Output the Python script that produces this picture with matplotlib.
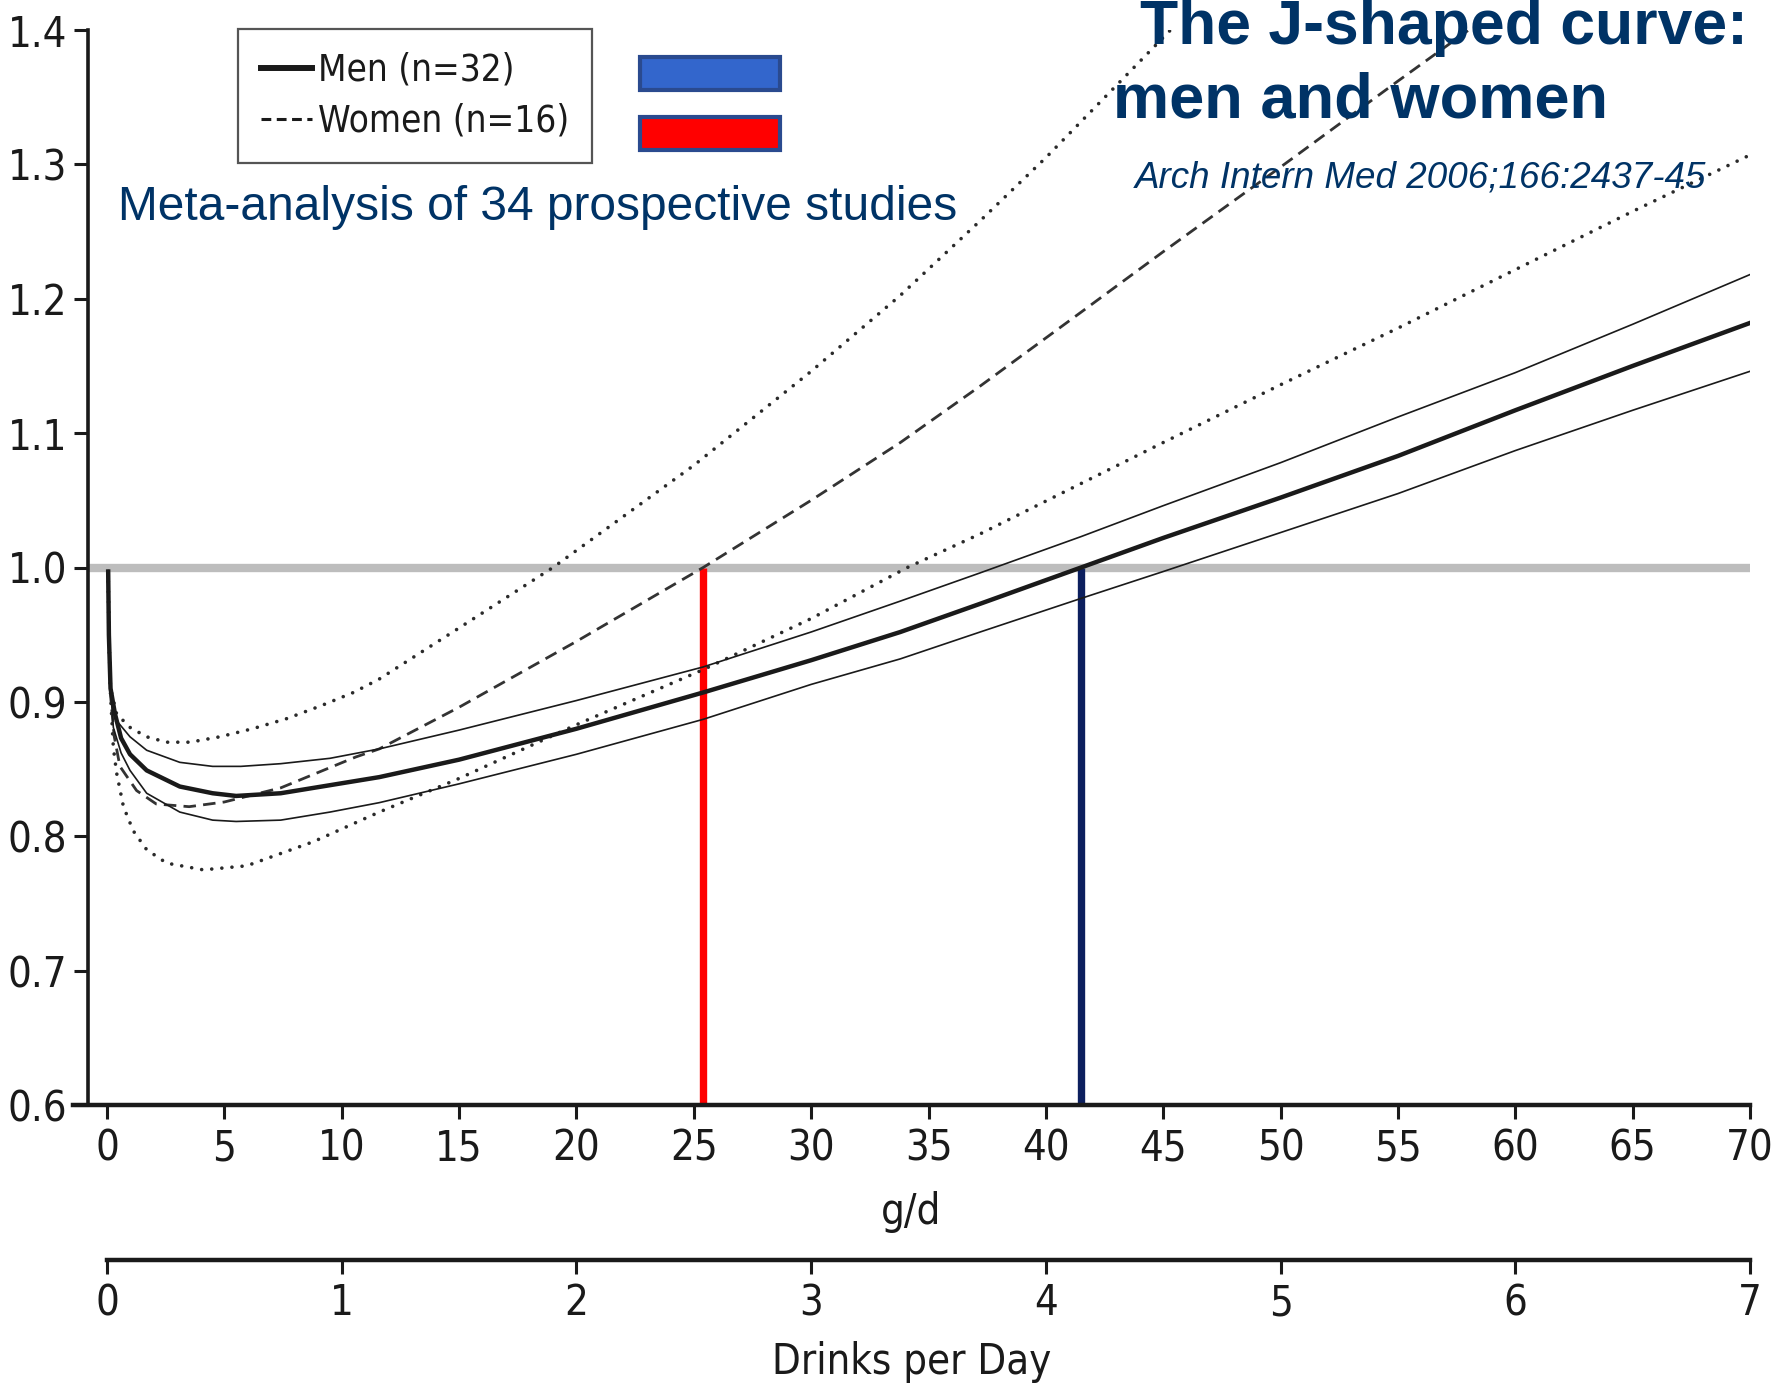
import matplotlib.pyplot as plt
from matplotlib.lines import Line2D
from matplotlib.patches import Rectangle

# values (g/d -> relative risk)
men_x = [0.05, 0.08, 0.15, 0.34, 0.6, 0.98, 1.69, 3.1, 4.5, 5.5, 7.4, 9.5, 11.6,
         15, 20, 25.4, 30, 33.8, 37.2, 41.5, 45, 50, 55, 60, 65, 70]
men_rr = [0.997, 0.95, 0.91, 0.891, 0.873, 0.861, 0.849, 0.837, 0.832, 0.830, 0.832, 0.838, 0.844,
          0.857, 0.880, 0.907, 0.931, 0.952, 0.973, 1.0, 1.022, 1.052, 1.083, 1.117, 1.150, 1.182]

men_hi_x = [0.05, 0.08, 0.15, 0.41, 0.98, 1.69, 3.1, 4.5, 5.7, 7.4, 9.5, 11.6,
            15, 20, 25.4, 30, 33.8, 37.2, 41.5, 45, 50, 55, 60, 65, 70]
men_hi = [0.997, 0.95, 0.91, 0.886, 0.874, 0.864, 0.855, 0.852, 0.852, 0.854, 0.858, 0.865,
          0.879, 0.901, 0.926, 0.952, 0.975, 0.996, 1.023, 1.046, 1.078, 1.112, 1.145, 1.181, 1.218]

men_lo_x = [0.05, 0.08, 0.15, 0.27, 0.6, 0.98, 1.69, 3.1, 4.5, 5.5, 7.4, 9.5, 11.6,
            15, 20, 25.4, 30, 33.8, 37.2, 41.5, 45, 50, 55, 60, 65, 70]
men_lo = [0.997, 0.95, 0.91, 0.881, 0.862, 0.849, 0.832, 0.818, 0.812, 0.811, 0.812, 0.818, 0.825,
          0.839, 0.861, 0.887, 0.913, 0.932, 0.952, 0.977, 0.997, 1.026, 1.055, 1.087, 1.117, 1.146]

women_x = [0.05, 0.08, 0.15, 0.3, 0.55, 1.26, 2.1, 3.5, 5.0, 7.4, 10.6, 11.6,
           15, 20, 25.4, 30, 33.8, 37.2, 41.5, 45, 50, 55, 60]
women_rr = [0.997, 0.95, 0.905, 0.875, 0.852, 0.834, 0.824, 0.822, 0.8255, 0.836, 0.859, 0.865,
            0.896, 0.945, 1.0, 1.05, 1.093, 1.135, 1.19, 1.235, 1.298, 1.362, 1.425]

women_hi_x = [0.05, 0.08, 0.15, 0.41, 0.98, 1.69, 2.54, 3.54, 4.8, 6.2, 7.65, 9.1, 10.5, 11.6,
              15, 19, 25, 30, 33.8, 37.2, 40, 45.2, 47]
women_hi = [0.997, 0.95, 0.91, 0.891, 0.881, 0.874, 0.870, 0.870, 0.874, 0.880, 0.8875, 0.897, 0.907, 0.917,
            0.955, 1.0, 1.076, 1.146, 1.2025, 1.258, 1.305, 1.398, 1.43]

women_lo_x = [0.05, 0.08, 0.15, 0.27, 0.41, 0.7, 1.12, 1.69, 2.54, 4.1, 5.95, 8.8, 11.6,
              15, 20, 25.4, 30, 34.1, 37.2, 41.5, 45, 50, 55.1, 59.35, 65, 70]
women_lo = [0.997, 0.95, 0.905, 0.866, 0.847, 0.822, 0.804, 0.790, 0.780, 0.775, 0.778, 0.796, 0.818,
            0.843, 0.883, 0.924, 0.962, 1.0, 1.025, 1.0625, 1.093, 1.136, 1.179, 1.216, 1.265, 1.307]

# intake where the curves cross RR = 1
cross_x = [25.4, 41.5]
cross_colors = ['#ff0000', '#0c1f5e']

gd_ticks = list(range(0, 71, 5))
drink_ticks = list(range(0, 8))
y_ticks = [0.6, 0.7, 0.8, 0.9, 1.0, 1.1, 1.2, 1.3, 1.4]

plt.rcParams['font.family'] = ['Liberation Sans', 'DejaVu Sans']
navy = '#003366'
ink = '#1a1a1a'


def narrow(lab, size):
    lab.set_family('DejaVu Sans')
    lab.set_stretch('condensed')
    lab.set_size(size)


fig = plt.figure(figsize=(17.87, 13.83), dpi=100)
ax = fig.add_axes([73 / 1787, 278 / 1383, 1677 / 1787, 1075 / 1383])
ax.set_xlim(-1.449, 70)
ax.set_ylim(0.6, 1.4)

ax.hlines(1.0, -0.81, 70, color='#bdbdbd', lw=6, zorder=1)
ax.vlines(cross_x, 0.6, 1.0, colors=cross_colors, lw=5.3, zorder=2)

dots = (0, (0.01, 2.8))
ax.plot(women_hi_x, women_hi, color='#2a2a2a', lw=2.6, ls=dots, dash_capstyle='round', zorder=3)
ax.plot(women_lo_x, women_lo, color='#2a2a2a', lw=2.6, ls=dots, dash_capstyle='round', zorder=3)
ax.plot(women_x, women_rr, color='#333333', lw=2.0, ls=(0, (4.5, 2.6)), zorder=3)
ax.plot(men_hi_x, men_hi, color=ink, lw=1.2, zorder=4)
ax.plot(men_lo_x, men_lo, color=ink, lw=1.2, zorder=4)
ax.plot(men_x, men_rr, color=ink, lw=3.2, zorder=5)

for s in ['top', 'right']:
    ax.spines[s].set_visible(False)
ax.spines['left'].set_position(('data', -0.81))
ax.spines['left'].set_linewidth(2.6)
ax.spines['bottom'].set_linewidth(3.2)
for s in ['left', 'bottom']:
    ax.spines[s].set_color(ink)

ax.set_xticks(gd_ticks)
ax.set_yticks(y_ticks)
ax.set_yticklabels([f'{v:.1f}' for v in y_ticks])
ax.tick_params(axis='both', direction='out', length=10, width=2.2, color=ink,
               labelcolor=ink)
ax.tick_params(axis='y', pad=5)
ax.tick_params(axis='x', pad=6)
for lab in ax.get_xticklabels() + ax.get_yticklabels():
    narrow(lab, 30)
ax.set_xlabel('g/d', color=ink, labelpad=16)
narrow(ax.xaxis.label, 30)

sec = ax.secondary_xaxis(-0.1442, functions=(lambda v: v / 10, lambda v: v * 10))
sec.set_xticks(drink_ticks)
sec.spines['bottom'].set_bounds(0, 7)
sec.spines['bottom'].set_linewidth(3.2)
sec.spines['bottom'].set_color(ink)
sec.tick_params(direction='out', length=10, width=2.2, color=ink, labelcolor=ink, pad=6)
for lab in sec.get_xticklabels():
    narrow(lab, 30)
sec.set_xlabel('Drinks per Day', color=ink, labelpad=12)
narrow(sec.xaxis.label, 30)

handles = [Line2D([], [], color=ink, lw=4.3),
           Line2D([], [], color=ink, lw=2.2, ls=(0, (3.2, 1.8)))]
leg = ax.legend(handles, ['Men (n=32)', 'Women (n=16)'], loc='upper left',
                bbox_to_anchor=(238 / 1787, 1 - 29 / 1383), bbox_transform=fig.transFigure,
                prop={'family': 'DejaVu Sans', 'stretch': 'condensed', 'size': 26.5},
                frameon=True, fancybox=False,
                handlelength=1.4, handletextpad=0.15, labelspacing=0.38,
                borderpad=0.62, borderaxespad=0)
leg.get_frame().set_edgecolor('#2a2a2a')
leg.get_frame().set_linewidth(1.6)
for t in leg.get_texts():
    t.set_color(ink)

fig.patches.append(Rectangle((640 / 1787, 1 - 90 / 1383), 140 / 1787, 33 / 1383,
                             transform=fig.transFigure, facecolor='#3366cc',
                             edgecolor='#2a4a8f', lw=3))
fig.patches.append(Rectangle((640 / 1787, 1 - 150 / 1383), 140 / 1787, 33 / 1383,
                             transform=fig.transFigure, facecolor='#ff0000',
                             edgecolor='#2a4a8f', lw=3))

fig.text(118 / 1787, 1 - 220 / 1383, 'Meta-analysis of 34 prospective studies',
         fontsize=34.5, color=navy, va='baseline', ha='left')
fig.text(1140 / 1787, 1 - 44 / 1383, 'The J-shaped curve:', fontsize=45,
         fontweight='bold', color=navy, va='baseline', ha='left')
fig.text(1113 / 1787, 1 - 118 / 1383, 'men and women', fontsize=45.5,
         fontweight='bold', color=navy, va='baseline', ha='left')
fig.text(1135 / 1787, 1 - 188 / 1383, 'Arch Intern Med 2006;166:2437-45', fontsize=26.5,
         style='italic', color=navy, va='baseline', ha='left')

fig.savefig('out.png', dpi=100)
